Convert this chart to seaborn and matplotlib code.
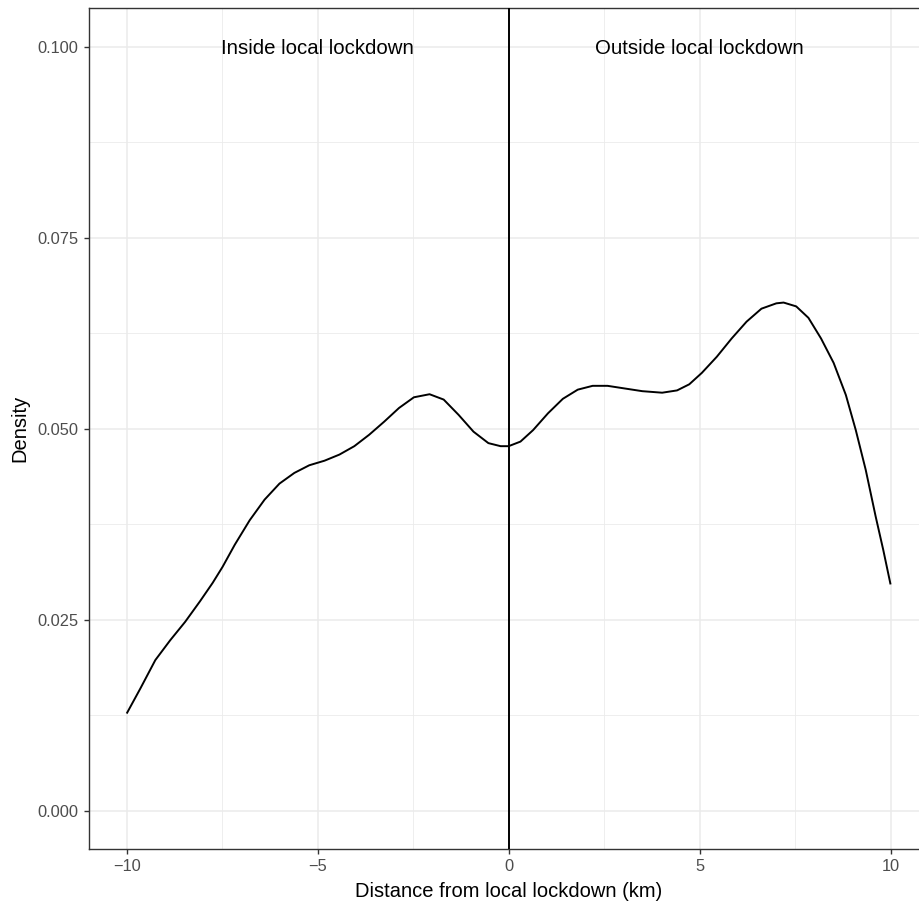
import matplotlib
matplotlib.use("Agg")
import matplotlib.pyplot as plt
from matplotlib.ticker import MultipleLocator, FixedLocator
import seaborn as sns
import pandas as pd

# Kernel density of distance to the local lockdown boundary
distance_km = [-10.0, -9.64, -9.25, -8.86, -8.47, -8.08, -7.75, -7.49, -7.17,
               -6.78, -6.39, -6.00, -5.61, -5.22, -4.82, -4.43, -4.04, -3.65,
               -3.26, -2.87, -2.48, -2.07, -1.70, -1.31, -0.92, -0.53, -0.21,
               0.0, 0.31, 0.64, 1.03, 1.42, 1.81, 2.20, 2.59, 2.98, 3.50,
               4.02, 4.41, 4.73, 5.06, 5.45, 5.84, 6.23, 6.62, 7.01, 7.20,
               7.53, 7.85, 8.18, 8.51, 8.83, 9.09, 9.35, 9.61, 9.81, 10.0]
density = [0.0127, 0.0160, 0.0197, 0.0223, 0.0247, 0.0274, 0.0298, 0.0319,
           0.0348, 0.0380, 0.0407, 0.0428, 0.0442, 0.0452, 0.0458, 0.0466,
           0.0477, 0.0492, 0.0509, 0.0527, 0.0541, 0.0545, 0.0538, 0.0518,
           0.0496, 0.0481, 0.0477, 0.0477, 0.0483, 0.0498, 0.0520, 0.0539,
           0.0551, 0.0556, 0.0556, 0.0553, 0.0549, 0.0547, 0.0550, 0.0558,
           0.0573, 0.0594, 0.0618, 0.0640, 0.0657, 0.0664, 0.0665, 0.0660,
           0.0645, 0.0618, 0.0586, 0.0544, 0.0498, 0.0446, 0.0385, 0.0341,
           0.0296]

region_labels = ["Inside local lockdown", "Outside local lockdown"]
label_x = [-5, 5]
label_y = [0.1, 0.1]

x_ticks = [-10, -5, 0, 5, 10]
y_ticks = [0.000, 0.025, 0.050, 0.075, 0.100]

sns.set_theme(style="white")
plt.rcParams["font.family"] = ["Liberation Sans", "DejaVu Sans"]

fig = plt.figure(figsize=(9.2, 9.01), dpi=100)
fig.patch.set_edgecolor("none")
ax = fig.add_axes([0.0962, 0.058, 0.9133, 0.9326])

df = pd.DataFrame({"distance": distance_km, "density": density})
sns.lineplot(data=df, x="distance", y="density", color="black", linewidth=1.4,
             sort=False, estimator=None, ax=ax, zorder=3,
             solid_joinstyle="round", solid_capstyle="butt")
ax.axvline(0, color="black", linewidth=1.4, zorder=3)

for txt, tx, ty in zip(region_labels, label_x, label_y):
    ax.annotate(txt, xy=(tx, ty), xytext=(0, -5.3), textcoords="offset points",
                ha="center", va="baseline", fontsize=14.7, color="black")

ax.set_xlim(-11, 11)
ax.set_ylim(-0.005, 0.105)
ax.xaxis.set_major_locator(FixedLocator(x_ticks))
ax.yaxis.set_major_locator(FixedLocator(y_ticks))
ax.xaxis.set_minor_locator(MultipleLocator(2.5))
ax.yaxis.set_minor_locator(MultipleLocator(0.0125))
ax.set_xticklabels(["\u221210", "\u22125", "0", "5", "10"])
ax.set_yticklabels([f"{v:.3f}" for v in y_ticks])

ax.grid(which="major", color="#EBEBEB", linewidth=1.1, zorder=0)
ax.grid(which="minor", color="#EBEBEB", linewidth=0.6, zorder=0)
ax.set_axisbelow(True)

ax.tick_params(axis="both", which="major", length=3.8, width=1.0, color="#333333",
               labelsize=11.8, labelcolor="#4D4D4D", pad=3.3,
               bottom=True, left=True)
ax.tick_params(axis="x", which="major", pad=3.5)
ax.tick_params(axis="both", which="minor", length=0)
for side in ["top", "bottom", "left"]:
    ax.spines[side].set_visible(True)
    ax.spines[side].set_color("#333333")
    ax.spines[side].set_linewidth(1.0)
ax.spines["right"].set_visible(False)

ax.set_xlabel("Distance from local lockdown (km)", fontsize=14.5, color="black")
ax.set_ylabel("Density", fontsize=14.5, color="black")
ax.xaxis.set_label_coords(0.5, -0.040)
ax.yaxis.set_label_coords(-0.070, 0.5)

fig.savefig("out.png", dpi=100)
